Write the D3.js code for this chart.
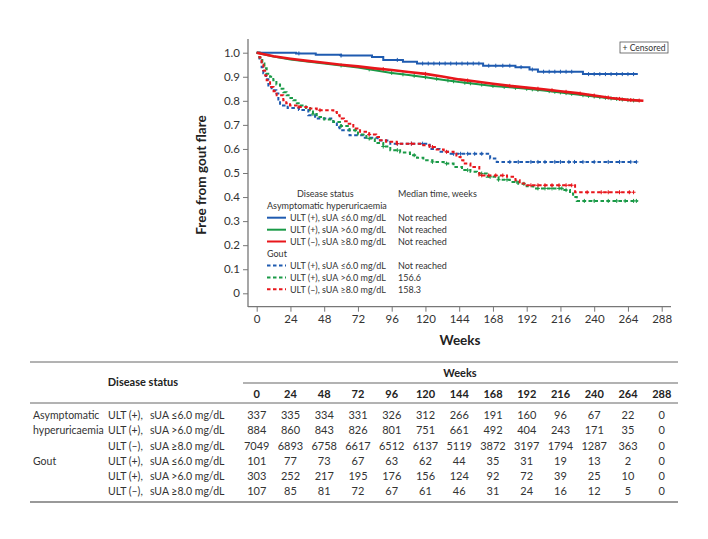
<!DOCTYPE html>
<html><head><meta charset="utf-8">
<script src="https://cdn.jsdelivr.net/npm/d3@7"></script>
<style>
body{margin:0;background:#fff;}
svg{font-family:Lato,sans-serif;}
</style></head>
<body><svg id="c" width="708" height="539"></svg>
<script>
// ---------- data ----------
const weekTicks = [0,24,48,72,96,120,144,168,192,216,240,264,288];
const survTicks = [0,0.1,0.2,0.3,0.4,0.5,0.6,0.7,0.8,0.9,1.0];

const seriesNames = ["AH ULT+ ≤6","AH ULT+ >6","AH ULT− ≥8","Gout ULT+ ≤6","Gout ULT+ >6","Gout ULT− ≥8"];

const ahLow = [[0,1],[28,0.997],[42,0.992],[60,0.988],[82,0.982],[90,0.97],[104,0.962],[114,0.955],[161,0.946],[184,0.94],[194,0.93],[200,0.921],[232,0.911],[271,0.911]];
const ahMid = [[0,1],[12,0.984],[24,0.972],[36,0.963],[48,0.955],[60,0.947],[72,0.938],[84,0.927],[96,0.916],[108,0.907],[120,0.898],[132,0.888],[144,0.878],[156,0.87],[168,0.862],[180,0.856],[192,0.85],[204,0.843],[216,0.835],[228,0.826],[240,0.818],[252,0.81],[264,0.803],[272,0.80]];
const ahHigh = [[0,1],[12,0.985],[24,0.975],[36,0.966],[48,0.958],[60,0.95],[72,0.943],[84,0.935],[96,0.928],[108,0.92],[120,0.912],[132,0.901],[144,0.889],[156,0.88],[168,0.871],[180,0.862],[192,0.855],[204,0.848],[216,0.84],[228,0.832],[240,0.822],[252,0.812],[264,0.804],[275,0.80]];
const goutLow = [[0,1],[2,0.968],[3.5,0.94],[4.7,0.915],[6.6,0.89],[8.3,0.857],[10.6,0.844],[14,0.83],[15.4,0.80],[16.6,0.781],[22,0.77],[30,0.762],[36.7,0.74],[41.5,0.726],[54.5,0.712],[57,0.69],[59,0.678],[66,0.657],[76,0.647],[86,0.635],[95,0.622],[123,0.60],[130,0.588],[136,0.58],[166,0.56],[170.7,0.546],[271,0.546]];
const goutMid = [[0,1],[2,0.98],[4,0.955],[5.5,0.935],[7.1,0.913],[9.5,0.9],[11.8,0.885],[14,0.868],[16.6,0.85],[19,0.836],[21.3,0.823],[24,0.812],[26,0.802],[28.5,0.79],[30.8,0.781],[35,0.77],[37.9,0.761],[40,0.745],[42.7,0.733],[48,0.722],[54.5,0.712],[60,0.695],[66,0.678],[72,0.66],[78,0.643],[84,0.625],[90,0.61],[95,0.595],[102,0.585],[109,0.574],[114,0.563],[118.5,0.553],[125,0.546],[133,0.539],[140,0.525],[146,0.512],[152,0.505],[156.6,0.498],[163.6,0.484],[172,0.472],[180,0.463],[186,0.455],[192,0.445],[196.7,0.436],[218,0.429],[222.8,0.415],[225,0.40],[227.6,0.384],[271,0.384]];
const goutHigh = [[0,1],[2,0.98],[3.5,0.95],[4.7,0.926],[6,0.905],[7.1,0.885],[9.5,0.857],[12,0.84],[14.2,0.823],[18.9,0.802],[21,0.79],[23.7,0.781],[28.4,0.774],[35.6,0.768],[42.7,0.761],[54.5,0.754],[57,0.74],[59,0.726],[62,0.715],[64,0.705],[68.7,0.685],[73.5,0.671],[80,0.66],[85,0.65],[87.7,0.636],[92,0.63],[99.6,0.622],[118.5,0.615],[123,0.608],[128,0.598],[133,0.588],[140,0.58],[142,0.567],[145,0.553],[147,0.539],[152,0.525],[158.3,0.49],[178,0.484],[184,0.47],[187,0.456],[192,0.449],[225.5,0.449],[226.4,0.42],[268,0.42]];

const censorAhLow = [30,60,100,118,122,126,130,134,138,142,146,150,154,158,165,170,175,180,188,196,204,208,212,216,220,224,236,240,244,248,252,256,260,264,268];
const censorAhMid = [60,80,96,104,112,120,128,136,140,148,152,160,168,176,184,192,196,200,208,212,216,220,224,232,236,240,244,248,252,256,260,264,268];
const censorAhHigh = [90,120,150,180,200,210,220,230,240,250,258,266,272];
const censorGoutLow = [100,110,118,140,145,150,155,160,180,186,195,200,205,212,216,222,226,232,240,250,258,266,270];
const censorGoutMid = [40,60,70,80,90,100,112,125,135,150,160,166,172,178,185,190,200,205,210,215,217,220,233,240,250,256,262,268,270];
const censorGoutHigh = [30,45,80,100,110,125,135,160,165,170,175,195,200,205,210,215,220,224,235,245,250,258,265,268];

const legendGroups = ["Asymptomatic hyperuricaemia","Gout"];
const legendLabels = ["ULT (+), sUA ≤6.0 mg/dL","ULT (+), sUA >6.0 mg/dL","ULT (–), sUA ≥8.0 mg/dL"];
const medianTimes = ["Not reached","Not reached","Not reached","Not reached","156.6","158.3"];

const tableGroups = ["Asymptomatic","hyperuricaemia","","Gout","",""];
const tableUlt = ["ULT (+),","ULT (+),","ULT (–),","ULT (+),","ULT (+),","ULT (–),"];
const tableSua = ["sUA ≤6.0 mg/dL","sUA >6.0 mg/dL","sUA ≥8.0 mg/dL","sUA ≤6.0 mg/dL","sUA >6.0 mg/dL","sUA ≥8.0 mg/dL"];
const atRisk = [
 [337,335,334,331,326,312,266,191,160,96,67,22,0],
 [884,860,843,826,801,751,661,492,404,243,171,35,0],
 [7049,6893,6758,6617,6512,6137,5119,3872,3197,1794,1287,363,0],
 [101,77,73,67,63,62,44,35,31,19,13,2,0],
 [303,252,217,195,176,156,124,92,72,39,25,10,0],
 [107,85,81,72,67,61,46,31,24,16,12,5,0]
];

// ---------- styling ----------
const colors = ["#1f5bb0","#1a9a47","#e8161b","#1f5bb0","#1a9a47","#e8161b"];
const dashed = [false,false,false,true,true,true];
const curves = [ahLow,ahMid,ahHigh,goutLow,goutMid,goutHigh];
const censors = [censorAhLow,censorAhMid,censorAhHigh,censorGoutLow,censorGoutMid,censorGoutHigh];

const svg = d3.select("#c");
const x = d3.scaleLinear().domain([0,288]).range([256.7,661.7]);
const y = d3.scaleLinear().domain([0,1]).range([293.3,52.7]);
const axisCol = "#777", textCol = "#333";

// axes lines
svg.append("line").attr("x1",248).attr("x2",248).attr("y1",39).attr("y2",307).attr("stroke",axisCol).attr("stroke-width",1.3);
svg.append("line").attr("x1",248).attr("x2",671).attr("y1",306.7).attr("y2",306.7).attr("stroke",axisCol).attr("stroke-width",1.3);

const yAxis = svg.append("g").attr("transform","translate(248,0)")
  .call(d3.axisLeft(y).tickValues(survTicks).tickSize(5).tickPadding(3)
  .tickFormat(d=> d===0 ? "0" : d3.format(".1f")(d)));
yAxis.select(".domain").remove();
yAxis.selectAll("line").attr("stroke",axisCol);
yAxis.selectAll("text").attr("fill",textCol).style("font-size","11.5px").style("font-family","Lato");

const xAxis = svg.append("g").attr("transform","translate(0,306.7)")
  .call(d3.axisBottom(x).tickValues(weekTicks).tickSize(5).tickPadding(3));
xAxis.select(".domain").remove();
xAxis.selectAll("line").attr("stroke",axisCol);
xAxis.selectAll("text").attr("fill",textCol).style("font-size","11.5px").style("font-family","Lato");

// axis titles
svg.append("text").attr("transform","translate(206,175) rotate(-90)").attr("text-anchor","middle")
  .attr("font-weight","bold").attr("font-size","13.5px").attr("fill","#222").text("Free from gout flare");
svg.append("text").attr("x",460).attr("y",345).attr("text-anchor","middle")
  .attr("font-weight","bold").attr("font-size","13.5px").attr("fill","#222").text("Weeks");

// curves
function stepVal(data,w){let v=data[0][1];for(const p of data){if(p[0]<=w)v=p[1];else break;}return v;}
const line = d3.line().x(d=>x(d[0])).y(d=>y(d[1]));
const order = [3,4,5,0,1,2];
order.forEach(i=>{
  const lg = svg.append("g");
  const interp = (i===1||i===2);
  lg.append("path")
    .attr("d", line.curve(interp ? d3.curveLinear : d3.curveStepAfter)(curves[i]))
    .attr("fill","none").attr("stroke",colors[i])
    .attr("stroke-width", i===2 ? 2.6 : 2)
    .attr("stroke-dasharray", dashed[i] ? "3.5,2.5" : null);
  censors[i].forEach(w=>{
    let v;
    if(interp){
      const bis = d3.bisector(d=>d[0]).left(curves[i],w);
      const a = curves[i][Math.max(0,bis-1)], b = curves[i][Math.min(curves[i].length-1,bis)];
      v = (b[0]===a[0]) ? a[1] : a[1]+(b[1]-a[1])*(w-a[0])/(b[0]-a[0]);
    } else v = stepVal(curves[i],w);
    const cx = x(w), cy = y(v);
    lg.append("path").attr("d",`M${cx-2},${cy}H${cx+2}M${cx},${cy-2}V${cy+2}`)
      .attr("stroke",colors[i]).attr("stroke-width",1);
  });
});

// censored box
svg.append("rect").attr("x",620).attr("y",42).attr("width",48).attr("height",11)
  .attr("fill","#fff").attr("stroke","#555").attr("stroke-width",0.8);
svg.append("text").attr("x",644).attr("y",50.6).attr("text-anchor","middle").attr("font-size","8.6px").attr("fill",textCol).text("+ Censored");

// legend
const lf = "9px";
svg.append("text").attr("x",297).attr("y",196.5).attr("font-size",lf).attr("fill",textCol).text("Disease status");
svg.append("text").attr("x",398).attr("y",196.5).attr("font-size",lf).attr("fill",textCol).text("Median time, weeks");
const legRowY = [217.7,229.7,241.5,265.5,277.5,289.3];
const groupY = [206,254];
legendGroups.forEach((g,k)=>{
  svg.append("text").attr("x",267).attr("y",groupY[k]+3.3).attr("font-size",lf).attr("fill",textCol).text(g);
});
legRowY.forEach((ry,i)=>{
  svg.append("line").attr("x1",267).attr("x2",286).attr("y1",ry).attr("y2",ry)
    .attr("stroke",colors[i]).attr("stroke-width",2).attr("stroke-dasharray",dashed[i]?"3.5,2.5":null);
  svg.append("text").attr("x",290).attr("y",ry+3.3).attr("font-size",lf).attr("fill",textCol).text(legendLabels[i%3]);
  svg.append("text").attr("x",398).attr("y",ry+3.3).attr("font-size",lf).attr("fill",textCol).text(medianTimes[i]);
});

// table
const tf = "10.5px", nf = "11px";
svg.append("line").attr("x1",30).attr("x2",678).attr("y1",362).attr("y2",362).attr("stroke","#666").attr("stroke-width",1);
svg.append("text").attr("x",143).attr("y",386).attr("text-anchor","middle").attr("font-weight","bold").attr("font-size",nf).attr("fill","#222").text("Disease status");
svg.append("text").attr("x",460).attr("y",377).attr("text-anchor","middle").attr("font-weight","bold").attr("font-size",nf).attr("fill","#222").text("Weeks");
svg.append("line").attr("x1",243).attr("x2",678).attr("y1",383).attr("y2",383).attr("stroke","#999").attr("stroke-width",1.5);
weekTicks.forEach(w=>{
  svg.append("text").attr("x",x(w)).attr("y",398).attr("text-anchor","middle").attr("font-weight","bold").attr("font-size",nf).attr("fill","#222").text(w);
});
svg.append("line").attr("x1",30).attr("x2",678).attr("y1",403).attr("y2",403).attr("stroke","#666").attr("stroke-width",1);
const rowY = [415,430.3,445.6,460.8,476.1,491.4];
rowY.forEach((ry,i)=>{
  const by = ry+4;
  if(tableGroups[i]) svg.append("text").attr("x",33).attr("y",by).attr("font-size",tf).attr("fill",textCol).text(tableGroups[i]);
  svg.append("text").attr("x",108).attr("y",by).attr("font-size",tf).attr("fill",textCol).text(tableUlt[i]);
  svg.append("text").attr("x",150).attr("y",by).attr("font-size",tf).attr("fill",textCol).text(tableSua[i]);
  atRisk[i].forEach((n,j)=>{
    svg.append("text").attr("x",x(weekTicks[j])).attr("y",by).attr("text-anchor","middle").attr("font-size",nf).attr("fill",textCol).text(n);
  });
});
svg.append("line").attr("x1",30).attr("x2",678).attr("y1",502).attr("y2",502).attr("stroke","#999").attr("stroke-width",2);
</script></body></html>
